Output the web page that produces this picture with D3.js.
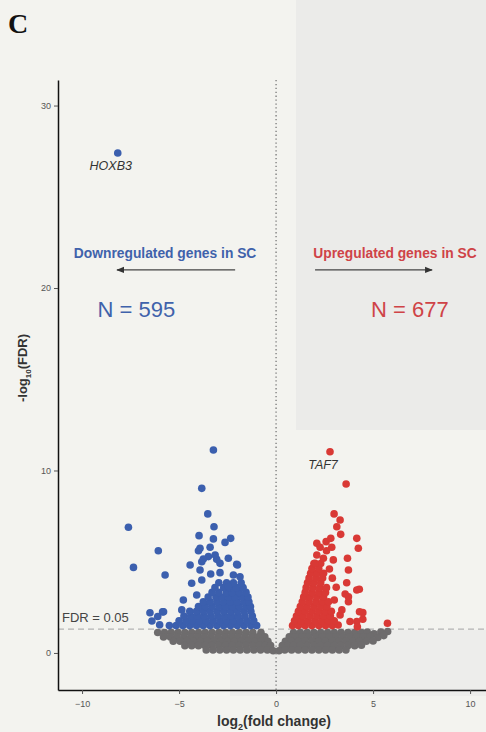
<!DOCTYPE html>
<html>
<head>
<meta charset="utf-8">
<script src="https://cdn.jsdelivr.net/npm/d3@7"></script>
<style>
body { margin: 0; background: #f4f4f0; }
svg { display: block; }
</style>
</head>
<body>
<svg width="486" height="732"></svg>
<script>
// tick values
var xTicks = [-10, -5, 0, 5, 10];
var yTicks = [0, 10, 20, 30];
var fdrCut = 0.05;

// not significant genes, read row by row off the grey blob
var grayPts = [
  [-6.10,1.12],[-5.75,1.12],[-5.40,1.12],[-5.05,1.12],[-4.70,1.12],[-4.35,1.12],[-4.00,1.12],[-3.65,1.12],[-3.30,1.12],
  [-2.95,1.12],[-2.60,1.12],[-2.25,1.12],[-1.90,1.12],[-1.55,1.12],[-1.20,1.12],[-0.78,1.12],
  [0.90,1.12],[1.25,1.12],[1.60,1.12],[1.95,1.12],[2.30,1.12],[2.65,1.12],[3.00,1.12],[3.35,1.12],[3.70,1.12],
  [4.05,1.12],[4.40,1.12],[4.70,1.14],[5.05,1.05],[5.40,1.15],[5.75,1.18],
  [-5.80,0.88],[-5.45,0.88],[-5.10,0.88],[-4.75,0.88],[-4.40,0.88],[-4.05,0.88],[-3.70,0.88],[-3.35,0.88],[-3.00,0.88],
  [-2.65,0.88],[-2.30,0.88],[-1.95,0.88],[-1.60,0.88],[-1.25,0.88],[-0.92,0.88],[-0.58,0.88],
  [0.68,0.88],[1.00,0.88],[1.35,0.88],[1.70,0.88],[2.05,0.88],[2.40,0.88],[2.75,0.88],[3.10,0.88],[3.45,0.88],
  [3.80,0.88],[4.15,0.88],[4.50,0.88],[4.85,0.90],[5.25,0.85],[5.55,0.95],
  [-5.30,0.64],[-4.95,0.64],[-4.60,0.64],[-4.25,0.64],[-3.90,0.64],[-3.55,0.64],[-3.20,0.64],[-2.85,0.64],[-2.50,0.64],
  [-2.15,0.64],[-1.80,0.64],[-1.45,0.64],[-1.10,0.64],[-0.75,0.64],[-0.42,0.64],
  [0.48,0.64],[0.80,0.64],[1.15,0.64],[1.50,0.64],[1.85,0.64],[2.20,0.64],[2.55,0.64],[2.90,0.64],[3.25,0.64],
  [3.60,0.64],[3.95,0.64],[4.30,0.64],[4.65,0.64],[5.00,0.66],
  [-4.70,0.40],[-4.35,0.40],[-4.00,0.40],[-3.65,0.40],[-3.30,0.40],[-2.95,0.40],[-2.60,0.40],[-2.25,0.40],[-1.90,0.40],
  [-1.55,0.40],[-1.20,0.40],[-0.85,0.40],[-0.55,0.40],[-0.28,0.40],
  [0.32,0.40],[0.60,0.40],[0.90,0.40],[1.25,0.40],[1.60,0.40],[1.95,0.40],[2.30,0.40],[2.65,0.40],[3.00,0.40],
  [3.35,0.40],[3.70,0.40],[4.05,0.40],[4.40,0.42],
  [-3.60,0.16],[-3.25,0.16],[-2.90,0.16],[-2.55,0.16],[-2.20,0.16],[-1.85,0.16],[-1.50,0.16],[-1.15,0.16],[-0.80,0.16],
  [-0.45,0.16],[-0.15,0.12],[0.15,0.12],[0.45,0.16],[0.80,0.16],[1.15,0.16],[1.50,0.16],[1.85,0.16],[2.20,0.16],
  [2.55,0.16],[2.90,0.16],[3.25,0.16],[3.60,0.16]
];

// downregulated in SC
var bluePts = [
  [-5.50,1.50],[-5.15,1.50],[-4.80,1.50],[-4.45,1.50],[-4.10,1.50],[-3.75,1.50],[-3.40,1.50],[-3.05,1.50],[-2.70,1.50],
  [-2.35,1.50],[-2.00,1.50],[-1.65,1.50],[-1.30,1.50],[-1.00,1.50],
  [-5.00,1.76],[-4.65,1.76],[-4.30,1.76],[-3.95,1.76],[-3.60,1.76],[-3.25,1.76],[-2.90,1.76],[-2.55,1.76],[-2.20,1.76],
  [-1.85,1.76],[-1.50,1.76],[-1.15,1.76],
  [-4.75,2.02],[-4.40,2.02],[-4.05,2.02],[-3.70,2.02],[-3.35,2.02],[-3.00,2.02],[-2.65,2.02],[-2.30,2.02],[-1.95,2.02],
  [-1.60,2.02],[-1.22,2.02],
  [-4.45,2.28],[-4.10,2.28],[-3.75,2.28],[-3.40,2.28],[-3.05,2.28],[-2.70,2.28],[-2.35,2.28],[-2.00,2.28],[-1.65,2.28],[-1.30,2.28],
  [-4.00,2.54],[-3.65,2.54],[-3.30,2.54],[-2.95,2.54],[-2.60,2.54],[-2.25,2.54],[-1.90,2.54],[-1.55,2.54],[-1.32,2.54],
  [-3.75,2.80],[-3.40,2.80],[-3.05,2.80],[-2.70,2.80],[-2.35,2.80],[-2.00,2.80],[-1.65,2.80],[-1.40,2.80],
  [-3.50,3.06],[-3.10,3.06],[-2.80,3.06],[-2.45,3.06],[-2.10,3.06],[-1.75,3.06],[-1.45,3.06],
  [-3.30,3.32],[-2.95,3.32],[-2.55,3.32],[-2.25,3.32],[-1.90,3.32],[-1.55,3.32],
  [-3.15,3.58],[-2.70,3.58],[-2.40,3.58],[-2.05,3.58],[-1.70,3.58],
  [-2.95,3.85],[-2.55,3.85],[-2.20,3.85],[-1.80,3.85],
  [-6.50,2.20],[-6.40,1.75],[-6.10,2.00],[-6.00,1.55],[-5.85,2.25],[-5.80,2.26],
  [-4.86,2.36],[-4.78,2.90],[-4.09,3.18],[-4.35,3.82],[-3.83,4.00],[-3.92,4.55],[-3.37,4.33],[-2.89,4.40],
  [-2.46,3.63],[-2.20,4.27],[-1.86,4.18],[-1.99,4.82],[-2.46,5.19],[-3.06,5.13],[-3.49,5.28],[-3.83,5.00],
  [-4.43,4.82],[-5.72,4.27],[-2.89,4.91],[-2.03,4.86],[-3.14,5.37],[-3.75,5.15],[-4.00,5.60],[-3.92,5.74],
  [-3.40,5.79],[-2.63,6.06],[-2.34,6.28],[-3.23,6.25],[-3.97,6.43],[-3.20,6.92],[-6.07,5.60],[-7.35,4.69],
  [-7.61,6.89],[-3.52,7.62],[-3.83,9.02],[-3.23,11.12],[-8.16,27.4]
];

// upregulated in SC
var redPts = [
  [0.85,1.50],[1.15,1.50],[1.50,1.50],[1.85,1.50],[2.20,1.50],[2.55,1.50],[2.90,1.50],[3.20,1.53],
  [0.95,1.76],[1.30,1.76],[1.65,1.76],[2.00,1.76],[2.35,1.76],[2.70,1.76],[3.00,1.76],
  [1.05,2.02],[1.40,2.02],[1.75,2.02],[2.10,2.02],[2.45,2.02],[2.80,2.02],
  [1.15,2.28],[1.50,2.28],[1.85,2.28],[2.20,2.28],[2.55,2.28],[2.85,2.28],
  [1.25,2.54],[1.60,2.54],[1.95,2.54],[2.30,2.54],[2.62,2.54],
  [1.35,2.80],[1.70,2.80],[2.05,2.80],[2.40,2.80],[2.70,2.80],
  [1.42,3.06],[1.75,3.06],[2.10,3.06],[2.45,3.06],
  [1.50,3.32],[1.85,3.32],[2.20,3.32],[2.55,3.32],
  [1.55,3.58],[1.90,3.58],[2.25,3.58],[2.60,3.58],
  [1.62,3.85],[1.95,3.85],[2.30,3.85],
  [1.70,4.11],[2.05,4.11],[2.40,4.11],
  [1.78,4.37],[2.12,4.37],[2.45,4.37],
  [1.85,4.63],[2.20,4.63],[1.95,4.90],[2.30,4.90],
  [3.81,1.72],[4.16,1.72],[4.19,1.44],[4.47,1.85],[4.47,2.21],[4.30,2.26],[5.74,1.63],[3.30,2.08],
  [3.39,2.36],[3.73,2.81],[3.00,2.90],[3.73,3.08],[3.56,3.23],[4.16,3.45],[4.29,3.49],[3.10,3.60],
  [3.64,3.85],[2.90,4.10],[2.75,4.60],[3.73,4.55],[2.01,4.91],[2.44,5.19],[2.95,5.10],[3.68,5.19],
  [2.10,5.37],[2.27,5.79],[2.87,5.79],[2.60,5.60],[2.10,6.01],[2.58,6.10],[2.82,6.28],[4.24,5.74],
  [4.16,6.28],[3.33,6.50],[3.13,6.92],[3.30,7.29],[2.99,7.62],[3.61,9.26],[2.78,11.03]
];

// labelled genes
var genes = [
  { name: "HOXB3", x: -8.16, y: 27.4 },
  { name: "TAF7", x: 2.78, y: 11.03 }
];

var svg = d3.select("svg");

// scan background
svg.append("rect").attr("width", 486).attr("height", 732).attr("fill", "#f3f3ef");
svg.append("rect").attr("x", 296).attr("y", 0).attr("width", 190).attr("height", 430).attr("fill", "#ebebe9");
svg.append("rect").attr("x", 230).attr("y", 630).attr("width", 256).attr("height", 66).attr("fill", "#ededeb");

var x = d3.scaleLinear().domain([-11.24, 10.82]).range([58, 486]);
var y = d3.scaleLinear().domain([-2.03, 31.4]).range([690, 80]);

// reference lines
svg.append("line")
    .attr("x1", x(0)).attr("x2", x(0))
    .attr("y1", y(31.4)).attr("y2", y(-2.03))
    .attr("stroke", "#777").attr("stroke-width", 1.3)
    .attr("stroke-dasharray", "1.3,2.6");

svg.append("line")
    .attr("x1", 58).attr("x2", 486)
    .attr("y1", y(-Math.log10(fdrCut))).attr("y2", y(-Math.log10(fdrCut)))
    .attr("stroke", "#b4b4b4").attr("stroke-width", 1.2)
    .attr("stroke-dasharray", "6,4");

svg.append("text")
    .attr("x", 62).attr("y", y(-Math.log10(fdrCut)) - 7)
    .style("font-family", "Liberation Sans, Arial, sans-serif")
    .style("font-size", "13px")
    .attr("fill", "#444")
    .text("FDR = 0.05");

// points
function drawPts(data, col) {
    svg.append("g").selectAll("circle")
        .data(data)
        .enter().append("circle")
        .attr("cx", function (d) { return x(d[0]); })
        .attr("cy", function (d) { return y(d[1]); })
        .attr("r", 3.8)
        .attr("fill", col);
}
drawPts(grayPts, "#6e6c6d");
drawPts(bluePts, "#3b5fae");
drawPts(redPts, "#d93935");

// gene labels
svg.append("g").selectAll("text")
    .data(genes)
    .enter().append("text")
    .attr("x", function (d) { return x(d.x) - 7; })
    .attr("y", function (d) { return y(d.y) + 17; })
    .attr("text-anchor", "middle")
    .style("font-family", "Liberation Sans, Arial, sans-serif")
    .style("font-size", "12.5px")
    .style("font-style", "italic")
    .attr("fill", "#333")
    .text(function (d) { return d.name; });

// axes
var xAxis = svg.append("g")
    .attr("transform", "translate(0,690)")
    .call(d3.axisBottom(x).tickValues(xTicks).tickSize(4).tickSizeOuter(0).tickFormat(d3.format("d")));
var yAxis = svg.append("g")
    .attr("transform", "translate(58,0)")
    .call(d3.axisLeft(y).tickValues(yTicks).tickSize(4).tickSizeOuter(0).tickFormat(d3.format("d")));

[xAxis, yAxis].forEach(function (a) {
    a.select(".domain").attr("stroke", "#111").attr("stroke-width", 1.5);
    a.selectAll(".tick line").attr("stroke", "#555");
    a.selectAll(".tick text")
        .attr("fill", "#555")
        .style("font-family", "Liberation Sans, Arial, sans-serif")
        .style("font-size", "9px");
});
xAxis.selectAll(".tick text").attr("dy", "1.1em");

// axis titles
var xt = svg.append("text")
    .attr("x", 274).attr("y", 726)
    .attr("text-anchor", "middle")
    .style("font-family", "Liberation Sans, Arial, sans-serif")
    .style("font-size", "14px")
    .style("font-weight", "bold")
    .attr("fill", "#333");
xt.append("tspan").text("log");
xt.append("tspan").attr("dy", 4).style("font-size", "9px").text("2");
xt.append("tspan").attr("dy", -4).text("(fold change)");

var yt = svg.append("text")
    .attr("transform", "translate(27,368) rotate(-90)")
    .attr("text-anchor", "middle")
    .style("font-family", "Liberation Sans, Arial, sans-serif")
    .style("font-size", "13px")
    .style("font-weight", "bold")
    .attr("fill", "#333");
yt.append("tspan").text("-log");
yt.append("tspan").attr("dy", 4).style("font-size", "8px").text("10");
yt.append("tspan").attr("dy", -4).text("(FDR)");

// annotations
svg.append("defs").append("marker")
    .attr("id", "arrow")
    .attr("viewBox", "0 -5 10 10")
    .attr("refX", 9)
    .attr("refY", 0)
    .attr("markerWidth", 6)
    .attr("markerHeight", 6)
    .attr("orient", "auto")
    .append("path")
    .attr("d", "M0,-4L10,0L0,4")
    .attr("fill", "#333");

var notes = [
    { label: "Downregulated genes in SC", n: "N = 595", col: "#3f62ab", tx: -5.72, x1: -2.11, x2: -8.2, nx: -7.2 },
    { label: "Upregulated genes in SC", n: "N = 677", col: "#cf4347", tx: 6.13, x1: 2.01, x2: 8.04, nx: 6.9 }
];

notes.forEach(function (d) {
    svg.append("text")
        .attr("x", x(d.tx)).attr("y", y(21.64))
        .attr("text-anchor", "middle")
        .style("font-family", "Liberation Sans, Arial, sans-serif")
        .style("font-size", "13.8px")
        .style("font-weight", "bold")
        .attr("fill", d.col)
        .text(d.label);
    svg.append("line")
        .attr("x1", x(d.x1)).attr("x2", x(d.x2))
        .attr("y1", y(20.99)).attr("y2", y(20.99))
        .attr("stroke", "#444").attr("stroke-width", 1.3)
        .attr("marker-end", "url(#arrow)");
    svg.append("text")
        .attr("x", x(d.nx)).attr("y", y(18.41))
        .attr("text-anchor", "middle")
        .style("font-family", "Liberation Sans, Arial, sans-serif")
        .style("font-size", "22px")
        .attr("fill", d.col)
        .text(d.n);
});

// panel letter
svg.append("text")
    .attr("x", 8).attr("y", 33)
    .style("font-family", "Liberation Serif, Times New Roman, serif")
    .style("font-size", "28px")
    .style("font-weight", "bold")
    .attr("fill", "#111")
    .text("C");
</script>
</body>
</html>
